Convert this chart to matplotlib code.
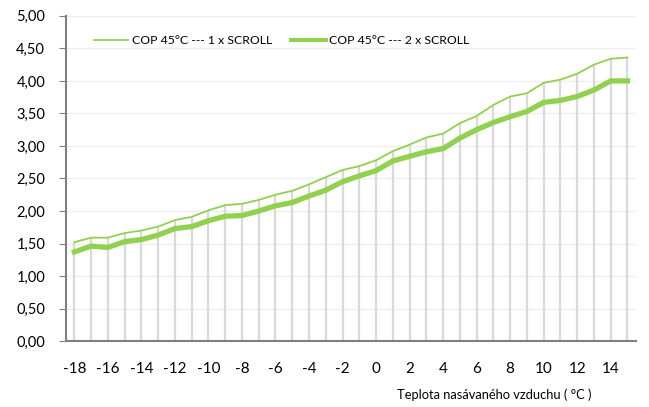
import numpy as np
import matplotlib
matplotlib.use("Agg")
import matplotlib.pyplot as plt
from matplotlib.ticker import FuncFormatter

# outdoor air temperature, one point per degree
temps = list(range(-18, 16))

cop_1_scroll = [1.52, 1.59, 1.59, 1.66, 1.70, 1.76, 1.86, 1.91, 2.01, 2.09,
                2.11, 2.17, 2.25, 2.31, 2.41, 2.52, 2.63, 2.69, 2.78, 2.92,
                3.02, 3.13, 3.19, 3.35, 3.46, 3.63, 3.76, 3.81, 3.97, 4.02,
                4.11, 4.25, 4.34, 4.36]
cop_2_scroll = [1.37, 1.46, 1.44, 1.53, 1.56, 1.63, 1.73, 1.76, 1.85, 1.92,
                1.93, 2.00, 2.08, 2.13, 2.23, 2.32, 2.45, 2.54, 2.62, 2.77,
                2.84, 2.91, 2.96, 3.12, 3.25, 3.36, 3.45, 3.53, 3.67, 3.70,
                3.76, 3.86, 4.00, 4.00]

labels = ["COP 45°C --- 1 x SCROLL", "COP 45°C --- 2 x SCROLL"]
x_tick_vals = list(range(-18, 15, 2))

green = "#92D050"
plt.rcParams['font.family'] = ['Lato', 'DejaVu Sans']

fig = plt.figure(figsize=(6.49, 4.07), dpi=100)
ax = fig.add_axes([0.1017, 0.162, 0.878, 0.799])

# drop lines from the upper curve to the axis
ax.vlines(temps, 0, cop_1_scroll, color="#d9d9d9", lw=1.6, zorder=2)

ax.plot(temps, cop_1_scroll, color=green, lw=1.3, label=labels[0], zorder=3)
ax.plot(temps, cop_2_scroll, color=green, lw=3.8, label=labels[1], zorder=3)

ax.set_xlim(-18.5, 15.5)
ax.set_ylim(0, 5)
ax.set_yticks(np.arange(0, 5.01, 0.5))
ax.yaxis.set_major_formatter(FuncFormatter(lambda v, p: f"{v:.2f}".replace(".", ",")))
ax.set_xticks(x_tick_vals)
ax.set_xticklabels([str(t) for t in x_tick_vals])

ax.grid(axis="y", color="#eeeeee", lw=1)
ax.set_axisbelow(True)
for s in ["top", "right"]:
    ax.spines[s].set_visible(False)
for s in ["left", "bottom"]:
    ax.spines[s].set_color("#808080")
    ax.spines[s].set_linewidth(1.5)

ax.tick_params(axis="y", length=5, color="#808080", labelsize=10.5, pad=10)
ax.tick_params(axis="x", length=0, labelsize=11, pad=15)

leg = ax.legend(loc="upper left", bbox_to_anchor=(0.04, 0.955), ncol=2, frameon=False,
                fontsize=8.8, handlelength=2.8, handletextpad=0.3, columnspacing=1.6,
                borderaxespad=0)
leg.get_lines()[1].set_linewidth(3)

fig.text(0.761, 0.03, "Teplota nasávaného vzduchu ( °C )", ha="center", va="center",
         fontsize=9.3)

fig.savefig("out.png", dpi=100)
